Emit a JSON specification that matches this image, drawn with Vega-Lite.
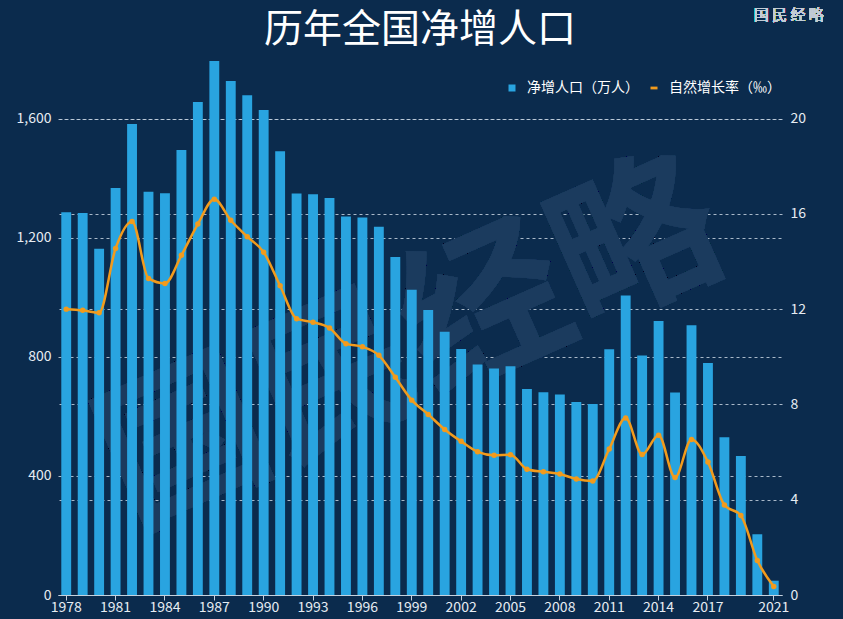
{
  "$schema": "https://vega.github.io/schema/vega-lite/v6.json",
  "autosize": {"type": "none"},
  "width": 724,
  "height": 536,
  "padding": {"left": 58, "top": 59, "right": 61, "bottom": 24},
  "background": "#0b2b4d",
  "config": {
    "font": "Noto Sans CJK SC",
    "view": {"stroke": null},
    "axis": {
      "labelColor": "#e6ecf2",
      "labelFont": "Noto Sans CJK SC",
      "labelFontSize": 14,
      "titleColor": "#e6ecf2"
    }
  },
  "title": {
    "text": "历年全国净增人口",
    "color": "#ffffff",
    "fontSize": 39,
    "fontWeight": "normal",
    "font": "Noto Sans CJK SC",
    "anchor": "middle",
    "offset": 0,
    "dy": 42
  },
  "data": {
    "values": [
      {"year": 1978, "pop": 1285, "rate": 12.0},
      {"year": 1979, "pop": 1283, "rate": 11.95},
      {"year": 1980, "pop": 1163, "rate": 11.85},
      {"year": 1981, "pop": 1367, "rate": 14.55},
      {"year": 1982, "pop": 1582, "rate": 15.68},
      {"year": 1983, "pop": 1354, "rate": 13.29},
      {"year": 1984, "pop": 1349, "rate": 13.08},
      {"year": 1985, "pop": 1494, "rate": 14.26},
      {"year": 1986, "pop": 1656, "rate": 15.57},
      {"year": 1987, "pop": 1793, "rate": 16.61},
      {"year": 1988, "pop": 1726, "rate": 15.73},
      {"year": 1989, "pop": 1678, "rate": 15.04},
      {"year": 1990, "pop": 1629, "rate": 14.39},
      {"year": 1991, "pop": 1490, "rate": 12.98},
      {"year": 1992, "pop": 1348, "rate": 11.6},
      {"year": 1993, "pop": 1346, "rate": 11.45},
      {"year": 1994, "pop": 1333, "rate": 11.21},
      {"year": 1995, "pop": 1271, "rate": 10.55},
      {"year": 1996, "pop": 1268, "rate": 10.42},
      {"year": 1997, "pop": 1237, "rate": 10.06},
      {"year": 1998, "pop": 1135, "rate": 9.14},
      {"year": 1999, "pop": 1025, "rate": 8.18},
      {"year": 2000, "pop": 957, "rate": 7.58},
      {"year": 2001, "pop": 884, "rate": 6.95},
      {"year": 2002, "pop": 826, "rate": 6.45},
      {"year": 2003, "pop": 774, "rate": 6.01},
      {"year": 2004, "pop": 761, "rate": 5.87},
      {"year": 2005, "pop": 768, "rate": 5.89},
      {"year": 2006, "pop": 692, "rate": 5.28},
      {"year": 2007, "pop": 681, "rate": 5.17},
      {"year": 2008, "pop": 673, "rate": 5.08},
      {"year": 2009, "pop": 648, "rate": 4.87},
      {"year": 2010, "pop": 641, "rate": 4.79},
      {"year": 2011, "pop": 825, "rate": 6.13},
      {"year": 2012, "pop": 1006, "rate": 7.43},
      {"year": 2013, "pop": 804, "rate": 5.9},
      {"year": 2014, "pop": 920, "rate": 6.71},
      {"year": 2015, "pop": 680, "rate": 4.93},
      {"year": 2016, "pop": 906, "rate": 6.53},
      {"year": 2017, "pop": 779, "rate": 5.58},
      {"year": 2018, "pop": 530, "rate": 3.78},
      {"year": 2019, "pop": 467, "rate": 3.34},
      {"year": 2020, "pop": 204, "rate": 1.45},
      {"year": 2021, "pop": 48, "rate": 0.36}
    ]
  },
  "encoding": {
    "x": {
      "field": "year",
      "type": "ordinal",
      "scale": {"paddingInner": 0.4, "paddingOuter": 0.2},
      "axis": {
        "title": null,
        "labelAngle": 0,
        "values": [1978, 1981, 1984, 1987, 1990, 1993, 1996, 1999, 2002, 2005, 2008, 2011, 2014, 2017, 2021],
        "domainColor": "#c5d2df",
        "tickColor": "#c5d2df",
        "tickSize": 5,
        "labelPadding": 0,
        "grid": false
      }
    }
  },
  "layer": [
    {
      "mark": {"type": "text", "text": "国民经略", "fontSize": 165, "angle": 336, "fill": "#1b3b5e", "font": "Noto Sans CJK SC", "fontWeight": "bold", "align": "center", "baseline": "middle"},
      "encoding": {
        "x": {"datum": 1999, "type": "ordinal"},
        "y": {"datum": 830, "type": "quantitative", "scale": {"domain": [0, 1800], "nice": false}, "axis": null}
      }
    },
    {
      "mark": {"type": "bar"},
      "encoding": {
        "y": {
          "field": "pop",
          "type": "quantitative",
          "scale": {"domain": [0, 1800], "nice": false},
          "axis": {
            "title": null,
            "orient": "left",
            "values": [0, 400, 800, 1200, 1600],
            "format": ",.0f",
            "domain": false,
            "ticks": false,
            "labelPadding": 7,
            "grid": true,
            "gridColor": "#c5d2df",
            "gridOpacity": 0.85,
            "gridDash": [3, 3],
            "gridWidth": 1
          }
        },
        "color": {
          "datum": "净增人口（万人）",
          "type": "nominal",
          "scale": {
            "domain": ["净增人口（万人）", "自然增长率（‰）"],
            "range": ["#29a4e0", "#f29b1c"]
          },
          "legend": {
            "title": null,
            "orient": "none",
            "legendX": 447,
            "legendY": 22,
            "direction": "horizontal",
            "padding": 0,
            "labelColor": "#ffffff",
            "labelFontSize": 14,
            "labelFont": "Noto Sans CJK SC",
            "labelOffset": 8,
            "columnPadding": 8,
            "symbolSize": 49,
            "symbolType": "square",
            "encode": {
              "symbols": {
                "update": {
                  "shape": {"signal": "datum.value === '净增人口（万人）' ? 'square' : 'M-1,-0.4H1V0.4H-1Z'"},
                  "fill": {"signal": "datum.value === '净增人口（万人）' ? '#29a4e0' : '#f29b1c'"},
                  "strokeWidth": {"value": 0},
                  "opacity": {"value": 1}
                }
              }
            }
          }
        }
      }
    },
    {
      "mark": {"type": "line", "interpolate": "monotone", "strokeWidth": 2.5, "point": {"filled": true, "size": 30}},
      "encoding": {
        "y": {
          "field": "rate",
          "type": "quantitative",
          "scale": {"domain": [0, 22.5], "nice": false},
          "axis": {
            "title": null,
            "orient": "right",
            "values": [0, 4, 8, 12, 16, 20],
            "domain": false,
            "ticks": false,
            "labelPadding": 8,
            "grid": true,
            "gridColor": "#c5d2df",
            "gridOpacity": 0.85,
            "gridDash": [3, 3],
            "gridWidth": 1
          }
        },
        "color": {"datum": "自然增长率（‰）", "type": "nominal"}
      }
    },
    {
      "mark": {"type": "text", "text": "国  民  经  略", "fontSize": 15, "fill": "#c3ccd6", "font": "Noto Sans CJK SC", "align": "center", "baseline": "middle", "dx": 15},
      "encoding": {
        "x": {"datum": 2021, "type": "ordinal"},
        "y": {"datum": 1948, "type": "quantitative", "scale": {"domain": [0, 1800], "nice": false}, "axis": null}
      }
    }
  ],
  "resolve": {"scale": {"y": "independent"}}
}
